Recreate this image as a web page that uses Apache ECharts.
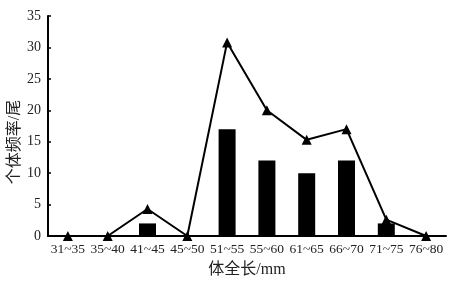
<!DOCTYPE html>
<html><head><meta charset="utf-8">
<script src="https://cdn.jsdelivr.net/npm/echarts@6/dist/echarts.min.js"></script>
<style>html,body{margin:0;padding:0;background:#fff}#c{width:456px;height:281px}</style>
</head><body><div id="c"></div>
<script>
const categories = ['31~35','35~40','41~45','45~50','51~55','55~60','61~65','66~70','71~75','76~80'];
const barValues = [0,0,2,0,17,12,10,12,2,0];
const lineValues = [0,0,4.3,0,30.8,20,15.3,17,2.6,0];
const yTicks = {min:0,max:35,interval:5};
const FONT = '"Liberation Serif","DejaVu Serif","Noto Sans CJK SC",serif';
const chart = echarts.init(document.getElementById('c'));
chart.setOption({
  animation:false,
  grid:{left:48,right:10,top:16,bottom:45,containLabel:false,outerBoundsMode:'none'},
  xAxis:{
    type:'category',data:categories,boundaryGap:true,
    name:'体全长/mm',nameLocation:'middle',nameGap:26,nameMoveOverlap:false,
    nameTextStyle:{fontFamily:FONT,fontSize:16,color:'#222'},
    axisLine:{lineStyle:{color:'#000',width:2}},
    axisTick:{inside:true,length:3,lineStyle:{color:'#000',width:1.5}},
    axisLabel:{fontFamily:FONT,fontSize:13.5,color:'#222',margin:7,interval:0}
  },
  yAxis:{
    type:'value',min:yTicks.min,max:yTicks.max,interval:yTicks.interval,
    name:'个体频率/尾',nameLocation:'middle',nameGap:25,nameRotate:90,nameMoveOverlap:false,
    nameTextStyle:{fontFamily:FONT,fontSize:16,color:'#222',padding:[0,32,0,0]},
    axisLine:{show:true,lineStyle:{color:'#000',width:2}},
    axisTick:{show:true,inside:true,length:3,lineStyle:{color:'#000',width:1.5}},
    splitLine:{show:false},
    axisLabel:{fontFamily:FONT,fontSize:14,color:'#222',margin:7}
  },
  series:[
    {type:'bar',data:barValues,barWidth:17,itemStyle:{color:'#000'}},
    {type:'line',data:lineValues,symbol:'triangle',symbolSize:10,
     lineStyle:{color:'#000',width:2},itemStyle:{color:'#000'},z:5}
  ]
});
</script></body></html>
